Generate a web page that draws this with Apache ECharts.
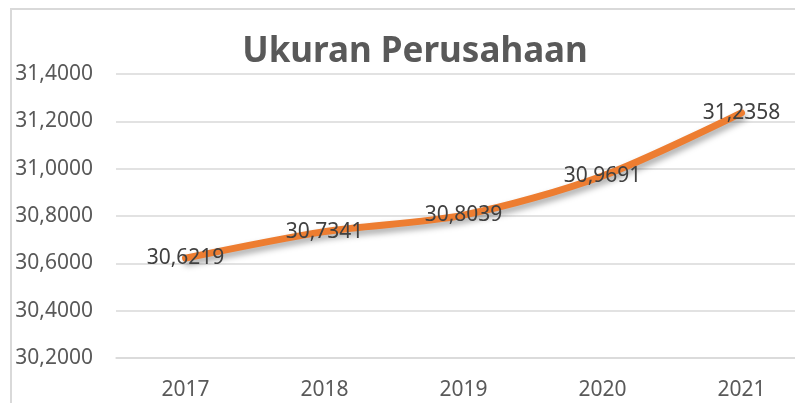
<!DOCTYPE html>
<html lang="id">
<head>
<meta charset="UTF-8">
<title>Ukuran Perusahaan</title>
<script src="https://cdn.jsdelivr.net/npm/echarts@6/dist/echarts.min.js"></script>
<style>
    html, body {
        margin: 0;
        padding: 0;
        background: #ffffff;
        overflow: hidden;
    }
    #chart {
        width: 830px;
        height: 403px;
    }
</style>
</head>
<body>
<div id="chart"></div>
<script>
    // data
    const years = ['2017', '2018', '2019', '2020', '2021'];
    const ukuran = [30.6219, 30.7341, 30.8039, 30.9691, 31.2358];
    const yMin = 30.2;
    const yMax = 31.4;
    const yStep = 0.2;

    const fmt = v => Number(v).toFixed(4).replace('.', ',');
    const font = '"Noto Sans", "Open Sans", sans-serif';

    // the plot runs past the right edge of the window, like the cropped original
    const myChart = echarts.init(document.getElementById('chart'));

    const option = {
        animation: false,
        title: {
            text: 'Ukuran Perusahaan',
            left: 410,
            top: 30,
            textAlign: 'center',
            textStyle: {
                fontFamily: font,
                fontSize: 35,
                fontWeight: 'bold',
                color: '#595959'
            }
        },
        graphic: [{
            type: 'rect',
            shape: { x: 11, y: 9, width: 1000, height: 1000 },
            style: { fill: 'none', stroke: '#d9d9d9', lineWidth: 2 },
            silent: true
        }],
        grid: {
            left: 116,
            top: 74,
            width: 695,
            height: 284
        },
        xAxis: {
            type: 'category',
            data: years,
            boundaryGap: true,
            axisLine: { lineStyle: { color: '#d9d9d9', width: 1.5 } },
            axisTick: { show: false },
            axisLabel: {
                margin: 22,
                fontFamily: font,
                fontSize: 21,
                color: '#595959'
            }
        },
        yAxis: {
            type: 'value',
            min: yMin,
            max: yMax,
            interval: yStep,
            axisLine: { show: false },
            axisTick: { show: false },
            splitLine: { lineStyle: { color: '#d9d9d9', width: 1.5 } },
            axisLabel: {
                margin: 23,
                fontFamily: font,
                fontSize: 21,
                color: '#595959',
                formatter: fmt
            }
        },
        series: [{
            type: 'line',
            data: ukuran,
            smooth: 0.3,
            symbol: 'circle',
            symbolSize: 2,
            showSymbol: true,
            itemStyle: { color: 'rgba(237,125,49,0)', borderWidth: 0 },
            lineStyle: {
                color: '#ED7D31',
                width: 7,
                cap: 'round',
                join: 'round',
                shadowColor: 'rgba(0,0,0,0.35)',
                shadowBlur: 6,
                shadowOffsetX: 2,
                shadowOffsetY: 4
            },
            label: {
                show: true,
                position: 'inside',
                fontFamily: font,
                fontSize: 21,
                color: '#404040',
                formatter: p => fmt(p.value)
            }
        }]
    };

    myChart.setOption(option);
</script>
</body>
</html>
